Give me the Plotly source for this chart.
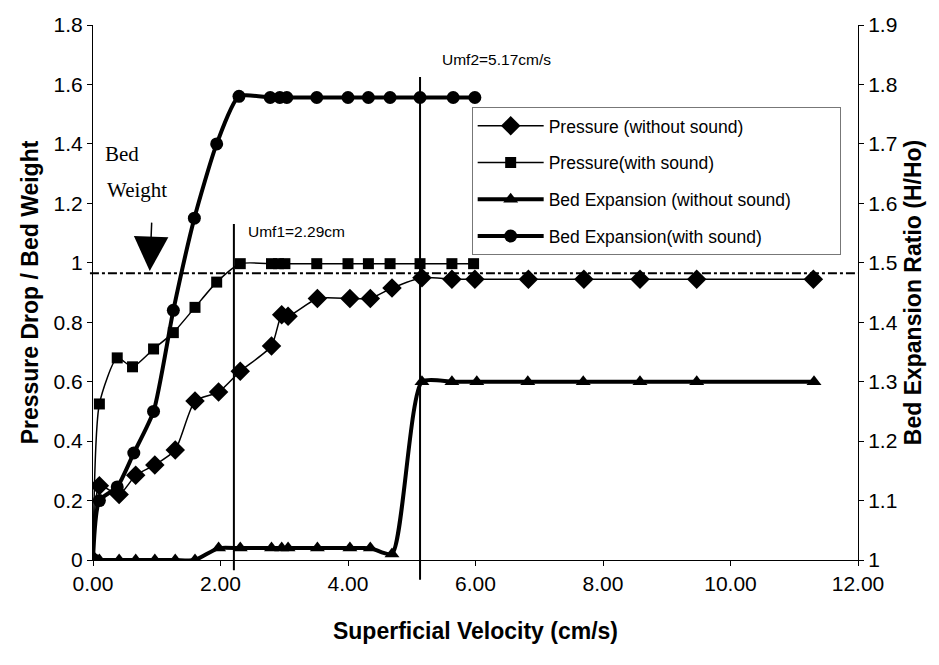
import plotly.graph_objects as go

# ---- data ----
v_p_nosound = [0, 0.10, 0.41, 0.67, 0.97, 1.29, 1.60, 1.97, 2.31, 2.80, 2.96, 3.06, 3.52, 4.03,
               4.35, 4.69, 5.16, 5.63, 5.99, 6.83, 7.70, 8.58, 9.47, 11.30]
p_nosound = [0, 0.25, 0.22, 0.285, 0.32, 0.37, 0.535, 0.565, 0.635, 0.72, 0.825, 0.82, 0.88, 0.88,
             0.88, 0.915, 0.95, 0.945, 0.945, 0.945, 0.945, 0.945, 0.945, 0.945]

v_p_sound = [0, 0.10, 0.38, 0.62, 0.95, 1.26, 1.60, 1.94, 2.31, 2.80, 2.91, 3.01, 3.51, 4.00,
             4.32, 4.66, 5.13, 5.63, 5.97]
p_sound = [0, 0.525, 0.68, 0.65, 0.71, 0.765, 0.85, 0.935, 0.997, 0.997, 0.997, 0.997, 0.997, 0.997,
           0.997, 0.997, 0.997, 0.997, 0.997]

v_b_nosound = [0, 0.10, 0.41, 0.67, 0.97, 1.29, 1.60, 1.97, 2.31, 2.80, 2.96, 3.06, 3.52, 4.03,
               4.35, 4.69, 5.16, 5.63, 6.02, 6.82, 7.69, 8.58, 9.47, 11.31]
b_nosound = [1.0, 1.0, 1.0, 1.0, 1.0, 1.0, 1.0, 1.02, 1.02, 1.02, 1.02, 1.02, 1.02, 1.02,
             1.02, 1.01, 1.30, 1.30, 1.30, 1.30, 1.30, 1.30, 1.30, 1.30]

v_b_sound = [0, 0.10, 0.38, 0.64, 0.95, 1.26, 1.59, 1.94, 2.29, 2.78, 2.93, 3.04, 3.51, 4.00,
             4.32, 4.66, 5.13, 5.65, 5.99]
b_sound = [1.0, 1.10, 1.123, 1.18, 1.25, 1.42, 1.575, 1.70, 1.78, 1.778, 1.778, 1.778, 1.778, 1.778,
           1.778, 1.778, 1.778, 1.778, 1.778]

names = ["Pressure (without sound)", "Pressure(with sound)",
         "Bed Expansion (without sound)", "Bed Expansion(with sound)"]

x_ticks = [0, 2, 4, 6, 8, 10, 12]
x_tick_text = ["0.00", "2.00", "4.00", "6.00", "8.00", "10.00", "12.00"]
y_left_ticks = [0, 0.2, 0.4, 0.6, 0.8, 1.0, 1.2, 1.4, 1.6, 1.8]
y_left_text = ["0", "0.2", "0.4", "0.6", "0.8", "1", "1.2", "1.4", "1.6", "1.8"]
y_right_ticks = [1.0, 1.1, 1.2, 1.3, 1.4, 1.5, 1.6, 1.7, 1.8, 1.9]
y_right_text = ["1", "1.1", "1.2", "1.3", "1.4", "1.5", "1.6", "1.7", "1.8", "1.9"]

bed_weight = 0.965
umf1, umf2 = 2.21, 5.13

FONT = "Liberation Sans, Arial, sans-serif"
SERIF = "Liberation Serif, Times New Roman, serif"
PAD = "\u00a0" * 9

fig = go.Figure()
fig.add_trace(go.Scatter(x=v_p_nosound, y=p_nosound, name=names[0], mode="lines+markers",
                         legendgroup="g1",
                         line=dict(color="black", width=1.5, shape="spline", smoothing=0.6),
                         marker=dict(symbol="diamond", size=15, color="black")))
fig.add_trace(go.Scatter(x=v_p_sound, y=p_sound, name=names[1], mode="lines+markers",
                         legendgroup="g2",
                         line=dict(color="black", width=1.5, shape="spline", smoothing=0.6),
                         marker=dict(symbol="square", size=11, color="black")))
fig.add_trace(go.Scatter(x=v_b_nosound, y=b_nosound, name=names[2] + PAD, mode="lines+markers",
                         yaxis="y2", legendgroup="g3",
                         line=dict(color="black", width=4, shape="spline", smoothing=0.6),
                         marker=dict(symbol="triangle-up", size=13, color="black")))
fig.add_trace(go.Scatter(x=v_b_sound, y=b_sound, name=names[3], mode="lines+markers", yaxis="y2",
                         legendgroup="g4",
                         line=dict(color="black", width=4, shape="spline", smoothing=0.6),
                         marker=dict(symbol="circle", size=13, color="black")))

shapes = [
    dict(type="line", xref="x", yref="paper", x0=umf1, x1=umf1, y0=-0.019, y1=0.628,
         line=dict(color="black", width=2)),
    dict(type="line", xref="x", yref="paper", x0=umf2, x1=umf2, y0=-0.037, y1=0.903,
         line=dict(color="black", width=2)),
    dict(type="line", xref="paper", yref="y", x0=-0.004, x1=1.0, y0=bed_weight, y1=bed_weight,
         line=dict(color="black", width=2, dash="dashdot")),
]

annotations = [
    dict(text="Umf1=2.29cm", x=umf1, xref="x", y=1.105, yref="y", xanchor="left", yanchor="middle",
         xshift=12, showarrow=False, font=dict(family=FONT, size=15.5, color="black")),
    dict(text="Umf2=5.17cm/s", x=umf2, xref="x", y=1.685, yref="y", xanchor="left", yanchor="middle",
         xshift=20, showarrow=False, font=dict(family=FONT, size=15.5, color="black")),
    dict(text="Bed", x=0.16, xref="x", y=1.365, yref="y", xanchor="left", yanchor="middle",
         showarrow=False, font=dict(family=SERIF, size=21, color="black")),
    dict(text="Weight", x=0.19, xref="x", y=1.245, yref="y", xanchor="left", yanchor="middle",
         showarrow=False, font=dict(family=SERIF, size=21, color="black")),
    dict(text="", x=0.89, xref="x", y=0.972, yref="y", ax=2, ay=-50, axref="pixel", ayref="pixel",
         showarrow=True, arrowhead=2, arrowsize=4.6, arrowwidth=1.5, arrowcolor="black"),
]

fig.update_layout(
    width=939, height=665,
    margin=dict(l=93, r=81, t=25, b=105),
    paper_bgcolor="white", plot_bgcolor="white",
    font=dict(family=FONT, color="black"),
    showlegend=True,
    legend=dict(x=0.495, y=0.847, xanchor="left", yanchor="top",
                bordercolor="#777777", borderwidth=1, bgcolor="white",
                font=dict(family=FONT, size=17.5, color="black"),
                itemwidth=66, tracegroupgap=11),
    xaxis=dict(range=[0, 12], tickvals=x_ticks, ticktext=x_tick_text,
               showgrid=False, zeroline=False, showline=True, linecolor="black", linewidth=1,
               ticks="outside", ticklen=5, tickcolor="black",
               tickfont=dict(family=FONT, size=21),
               title=dict(text="<b>Superficial Velocity (cm/s)</b>", font=dict(family=FONT, size=23),
                          standoff=28)),
    yaxis=dict(range=[0, 1.8], tickvals=y_left_ticks, ticktext=y_left_text,
               showgrid=False, zeroline=False, showline=True, linecolor="black", linewidth=1,
               ticks="outside", ticklen=5, tickcolor="black",
               tickfont=dict(family=FONT, size=21),
               title=dict(text="<b>Pressure Drop / Bed Weight</b>", font=dict(family=FONT, size=23),
                          standoff=8)),
    yaxis2=dict(range=[1, 1.9], tickvals=y_right_ticks, ticktext=y_right_text,
                overlaying="y", side="right",
                showgrid=False, zeroline=False, showline=True, linecolor="black", linewidth=1,
                ticks="outside", ticklen=5, tickcolor="black",
                tickfont=dict(family=FONT, size=21),
                title=dict(text="<b>Bed Expansion Ratio (H/Ho)</b>", font=dict(family=FONT, size=23),
                           standoff=8)),
    shapes=shapes,
    annotations=annotations,
)

fig.write_html("out.html")
